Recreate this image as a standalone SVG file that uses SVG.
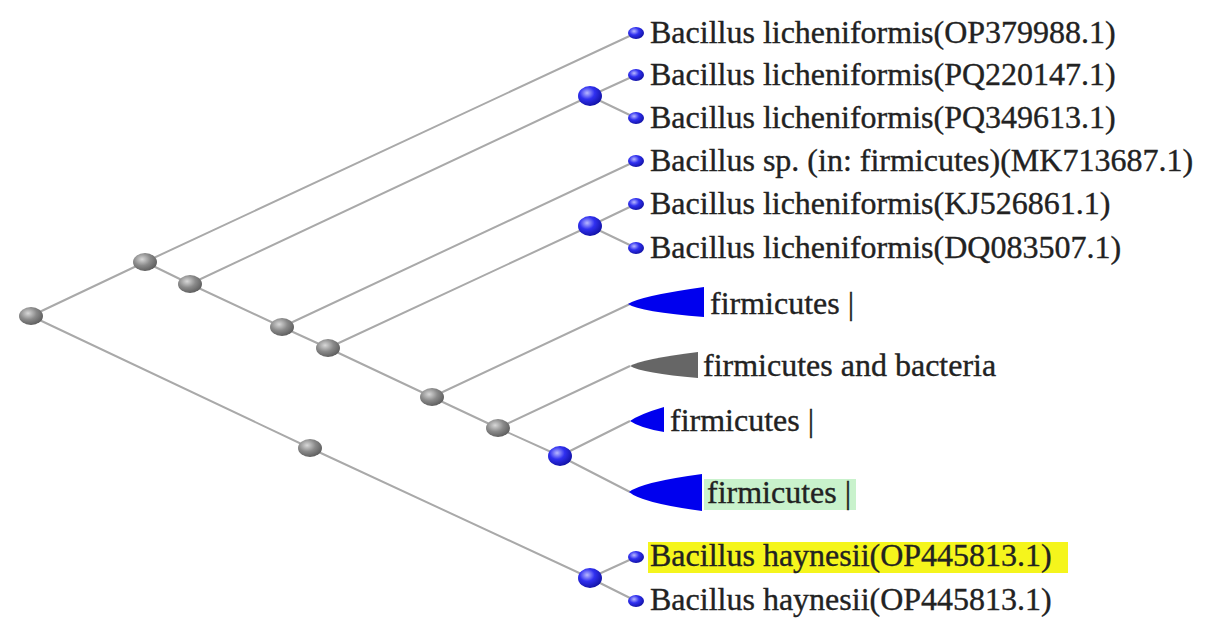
<svg xmlns="http://www.w3.org/2000/svg" width="1224" height="618" viewBox="0 0 1224 618">
<defs>
<radialGradient id="gg" cx="0.38" cy="0.35" r="0.7">
<stop offset="0" stop-color="#d8d8d8"/><stop offset="0.5" stop-color="#8a8a8a"/><stop offset="1" stop-color="#5a5a5a"/>
</radialGradient>
<radialGradient id="bg" cx="0.38" cy="0.35" r="0.7">
<stop offset="0" stop-color="#b8b8ff"/><stop offset="0.45" stop-color="#3030f0"/><stop offset="1" stop-color="#1010a0"/>
</radialGradient>
<style>
.e{stroke:#a9a9a9;stroke-width:2;fill:none}
.gn{fill:url(#gg)}
.bn{fill:url(#bg)}
.t{font-family:"Liberation Serif","Times New Roman",serif;font-size:32px;fill:#222222;stroke:#222222;stroke-width:0.35}
</style>
</defs>
<rect width="1224" height="618" fill="#ffffff"/>
<g id="connectors">
<path class="e" d="M31 316 L145 262 M145 262 L636 33 M145 262 L190 284 M190 284 L590 96 M590 96 L636 75 M590 96 L636 118 M190 284 L282 327 M282 327 L636 161 M282 327 L328 348 M328 348 L590 226 M590 226 L636 204 M590 226 L636 248 M328 348 L432 397 M432 397 L630 304 M432 397 L498 428 M498 428 L630 366 M498 428 L560 456 M560 456 L630 421 M560 456 L630 492 M31 316 L310 448 M310 448 L590 578 M590 578 L636 557 M590 578 L636 601"/>
</g>
<g id="n_root"><ellipse class="gn" cx="31" cy="316" rx="12" ry="9"/></g>
<g id="n_a"><ellipse class="gn" cx="145" cy="262" rx="12" ry="9"/></g>
<g id="n_b"><ellipse class="gn" cx="190" cy="284" rx="12" ry="9"/></g>
<g id="n_c"><ellipse class="gn" cx="282" cy="327" rx="12" ry="9"/></g>
<g id="n_d"><ellipse class="gn" cx="328" cy="348" rx="12" ry="9"/></g>
<g id="n_e"><ellipse class="gn" cx="432" cy="397" rx="12" ry="9"/></g>
<g id="n_f"><ellipse class="gn" cx="498" cy="428" rx="12" ry="9"/></g>
<g id="n_h"><ellipse class="gn" cx="310" cy="448" rx="12" ry="9"/></g>
<g id="n_g"><ellipse class="bn" cx="560" cy="456" rx="12" ry="10"/></g>
<g id="n_i1"><ellipse class="bn" cx="590" cy="96" rx="12" ry="10"/></g>
<g id="n_i2"><ellipse class="bn" cx="590" cy="226" rx="12" ry="10"/></g>
<g id="n_i3"><ellipse class="bn" cx="590" cy="578" rx="12" ry="10"/></g>
<g id="leaf1"><ellipse class="bn" cx="636" cy="33" rx="8" ry="6"/><text class="t" x="650" y="43">Bacillus licheniformis(OP379988.1)</text></g>
<g id="leaf2"><ellipse class="bn" cx="636" cy="75" rx="8" ry="6"/><text class="t" x="650" y="85">Bacillus licheniformis(PQ220147.1)</text></g>
<g id="leaf3"><ellipse class="bn" cx="636" cy="118" rx="8" ry="6"/><text class="t" x="650" y="128">Bacillus licheniformis(PQ349613.1)</text></g>
<g id="leaf4"><ellipse class="bn" cx="636" cy="161" rx="8" ry="6"/><text class="t" x="650" y="171">Bacillus sp. (in: firmicutes)(MK713687.1)</text></g>
<g id="leaf5"><ellipse class="bn" cx="636" cy="204" rx="8" ry="6"/><text class="t" x="650" y="214">Bacillus licheniformis(KJ526861.1)</text></g>
<g id="leaf6"><ellipse class="bn" cx="636" cy="248" rx="8" ry="6"/><text class="t" x="650" y="258">Bacillus licheniformis(DQ083507.1)</text></g>
<g id="clade1"><path d="M628 304 Q640 296 704 287 L704 317 Q640 312 628 304 Z" fill="#0000ee"/><text class="t" x="710" y="314">firmicutes |</text></g>
<g id="clade2"><path d="M630 366 Q642 359 698 352 L698 378 Q642 373 630 366 Z" fill="#666666"/><text class="t" x="703" y="376">firmicutes and bacteria</text></g>
<g id="clade3"><path d="M630 421 Q640 414 664 407 L664 432 Q640 428 630 421 Z" fill="#0000ee"/><text class="t" x="670" y="431">firmicutes |</text></g>
<g id="clade4"><rect x="704" y="479" width="152" height="31" fill="#c9f2cc"/><path d="M629 492 Q642 482 702 474 L702 511 Q642 503 629 492 Z" fill="#0000ee"/><text class="t" x="707" y="503">firmicutes |</text></g>
<g id="leaf7"><rect x="648" y="542" width="420" height="31" fill="#f5f51c"/><ellipse class="bn" cx="636" cy="557" rx="8" ry="6"/><text class="t" x="650" y="566">Bacillus haynesii(OP445813.1)</text></g>
<g id="leaf8"><ellipse class="bn" cx="636" cy="601" rx="8" ry="6"/><text class="t" x="650" y="610">Bacillus haynesii(OP445813.1)</text></g>
</svg>
